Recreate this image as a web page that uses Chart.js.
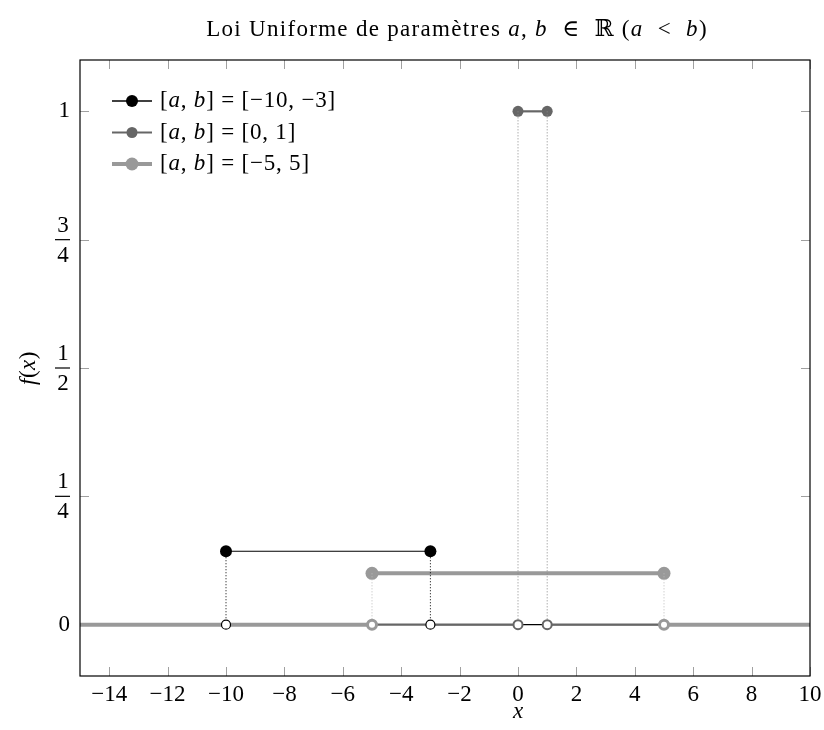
<!DOCTYPE html>
<html>
<head>
<meta charset="utf-8">
<script src="https://cdn.jsdelivr.net/npm/chart.js@4"></script>
<style>
  html, body { margin: 0; background: #fff; }
  #wrap { width: 824px; height: 730px; }
</style>
</head>
<body>
<div id="wrap"><canvas id="uniform"></canvas></div>
<script>
// values
const intervalTexts = ['[−10, −3]', '[0, 1]', '[−5, 5]'];
const lowerBounds = [-10, 0, -5];
const upperBounds = [-3, 1, 5];
const densities = [0.143, 1, 0.1];
const xRange = [-15, 10];
const yRange = [-0.1, 1.1];
const xTicks = [-14, -12, -10, -8, -6, -4, -2, 0, 2, 4, 6, 8, 10];
const yTicks = [0, 0.25, 0.5, 0.75, 1];
const yTickLabels = ['0', '1/4', '1/2', '3/4', '1'];

// styles
const colors = ['#000000', '#666666', '#999999'];
const dotColors = ['#000000', '#888888', '#bbbbbb'];
const lineWidths = [1.2, 2.2, 4];
const dotRadius = [6, 5.5, 6.5];
const ringWidths = [1.2, 2, 3];
const FONT = '"Liberation Serif", "DejaVu Serif", serif';

(function () {
    var datasets = [];
    for (var i = 0; i < lowerBounds.length; i++) {
        var a = lowerBounds[i], b = upperBounds[i], d = densities[i];
        var lineOrder = 30 - i * 10;
        var base = {
            showLine: true,
            borderColor: colors[i],
            borderWidth: lineWidths[i],
            pointRadius: 0,
            order: lineOrder
        };
        // zero parts
        datasets.push(Object.assign({}, base, { data: [{x: xRange[0], y: 0}, {x: a, y: 0}] }));
        datasets.push(Object.assign({}, base, { data: [{x: b, y: 0}, {x: xRange[1], y: 0}] }));
        // top segment with filled dots
        datasets.push(Object.assign({}, base, {
            data: [{x: a, y: d}, {x: b, y: d}],
            pointRadius: dotRadius[i],
            pointBackgroundColor: colors[i],
            pointBorderWidth: 0,
            order: lineOrder - 1
        }));
        // dotted drops
        [a, b].forEach(function (v) {
            datasets.push({
                showLine: true,
                data: [{x: v, y: d}, {x: v, y: 0}],
                borderColor: dotColors[i],
                borderWidth: 1,
                borderDash: [1, 2],
                pointRadius: 0,
                order: 5
            });
        });
        // open circles on the zero line
        datasets.push({
            showLine: false,
            data: [{x: a, y: 0}, {x: b, y: 0}],
            pointRadius: 4.5,
            pointBackgroundColor: '#ffffff',
            pointBorderColor: colors[i],
            pointBorderWidth: ringWidths[i],
            order: 2 - i * 0.1
        });
    }

    function drawRich(ctx, parts, x, y, size, align, spacing) {
        ctx.letterSpacing = (spacing || 0) + 'px';
        var total = 0;
        parts.forEach(function (p) {
            ctx.font = (p[1] ? 'italic ' : '') + size + 'px ' + FONT;
            total += ctx.measureText(p[0]).width;
        });
        var cx = align === 'center' ? x - total / 2 : x;
        ctx.textAlign = 'left';
        ctx.textBaseline = 'middle';
        parts.forEach(function (p) {
            ctx.font = (p[1] ? 'italic ' : '') + size + 'px ' + FONT;
            ctx.fillText(p[0], cx, y);
            cx += ctx.measureText(p[0]).width;
        });
        ctx.letterSpacing = '0px';
    }

    var decorations = {
        id: 'decorations',
        beforeDatasetsDraw: function (chart) {
            var ctx = chart.ctx, area = chart.chartArea;
            var xs = chart.scales.x, ys = chart.scales.y;
            ctx.save();
            ctx.strokeStyle = '#a0a0a0';
            ctx.lineWidth = 1;
            ctx.beginPath();
            xTicks.forEach(function (v) {
                var px = Math.round(xs.getPixelForValue(v)) + 0.5;
                ctx.moveTo(px, area.bottom); ctx.lineTo(px, area.bottom - 9);
                ctx.moveTo(px, area.top); ctx.lineTo(px, area.top + 9);
            });
            yTicks.forEach(function (v) {
                var py = Math.round(ys.getPixelForValue(v)) + 0.5;
                ctx.moveTo(area.left, py); ctx.lineTo(area.left + 9, py);
                ctx.moveTo(area.right, py); ctx.lineTo(area.right - 9, py);
            });
            ctx.stroke();
            ctx.restore();
        },
        afterDraw: function (chart) {
            var ctx = chart.ctx, area = chart.chartArea;
            var xs = chart.scales.x, ys = chart.scales.y;
            ctx.save();
            // frame
            ctx.strokeStyle = '#000';
            ctx.lineWidth = 1.2;
            ctx.strokeRect(area.left, area.top, area.right - area.left, area.bottom - area.top);

            ctx.fillStyle = '#000';
            // y tick labels (fractions)
            yTicks.forEach(function (v, k) {
                var py = ys.getPixelForValue(v);
                var lab = yTickLabels[k];
                ctx.font = '23px ' + FONT;
                ctx.textBaseline = 'middle';
                if (lab.indexOf('/') > 0) {
                    var parts = lab.split('/');
                    ctx.textAlign = 'center';
                    ctx.fillText(parts[0], 63, py - 14);
                    ctx.fillText(parts[1], 63, py + 16);
                    ctx.fillRect(55, py - 0.6, 15, 1.2);
                } else {
                    ctx.textAlign = 'right';
                    ctx.fillText(lab, 70, py);
                }
            });

            // axis titles
            drawRich(ctx, [['x', true]], xs.getPixelForValue(0), 712, 23, 'center');
            ctx.save();
            ctx.translate(29, (ys.getPixelForValue(0) + ys.getPixelForValue(1)) / 2);
            ctx.rotate(-Math.PI / 2);
            drawRich(ctx, [['f', true], ['(', false], ['x', true], [')', false]], 0, 0, 23, 'center', 0.5);
            ctx.restore();

            // title
            drawRich(ctx, [
                ['Loi Uniforme de paramètres ', false], ['a', true], [', ', false], ['b', true],
                ['  ∈  ℝ (', false], ['a', true], ['  <  ', false], ['b', true], [')', false]
            ], 457, 30, 23, 'center', 1.3);

            // legend
            lowerBounds.forEach(function (v, i) {
                var ly = 101 + i * 31.5;
                ctx.strokeStyle = colors[i];
                ctx.lineWidth = Math.max(lineWidths[i], 1.6);
                ctx.beginPath();
                ctx.moveTo(112, ly); ctx.lineTo(152, ly);
                ctx.stroke();
                ctx.beginPath();
                ctx.fillStyle = colors[i];
                ctx.arc(132, ly, dotRadius[i], 0, Math.PI * 2);
                ctx.fill();
                ctx.fillStyle = '#000';
                drawRich(ctx, [['[', false], ['a', true], [', ', false], ['b', true],
                    ['] = ' + intervalTexts[i], false]], 160, ly, 23, 'left', 0.8);
            });
            ctx.restore();
        }
    };

    var chartId = document.getElementById('uniform').getContext('2d');
    new Chart(chartId, {
        type: 'scatter',
        data: { datasets: datasets },
        plugins: [decorations],
        options: {
            responsive: true,
            maintainAspectRatio: false,
            animation: false,
            events: [],
            layout: { padding: { top: 60, right: 14, left: 0, bottom: 0 } },
            plugins: { legend: { display: false }, tooltip: { enabled: false } },
            scales: {
                x: {
                    type: 'linear',
                    min: xRange[0],
                    max: xRange[1],
                    afterBuildTicks: function (scale) {
                        scale.ticks = xTicks.map(function (v) { return { value: v }; });
                    },
                    afterFit: function (scale) {
                        scale.height = 54;
                        scale.paddingLeft = 0;
                        scale.paddingRight = 0;
                    },
                    grid: { display: false, drawTicks: false },
                    border: { display: false },
                    ticks: {
                        padding: 5,
                        maxRotation: 0,
                        autoSkip: false,
                        color: '#000',
                        font: { family: FONT, size: 23 },
                        callback: function (v) { return String(v).replace('-', '−'); }
                    }
                },
                y: {
                    type: 'linear',
                    min: yRange[0],
                    max: yRange[1],
                    afterBuildTicks: function (scale) {
                        scale.ticks = yTicks.map(function (v) { return { value: v }; });
                    },
                    afterFit: function (scale) { scale.width = 80; },
                    grid: { display: false, drawTicks: false },
                    border: { display: false },
                    ticks: { display: false }
                }
            }
        }
    });
})();
</script>
</body>
</html>
